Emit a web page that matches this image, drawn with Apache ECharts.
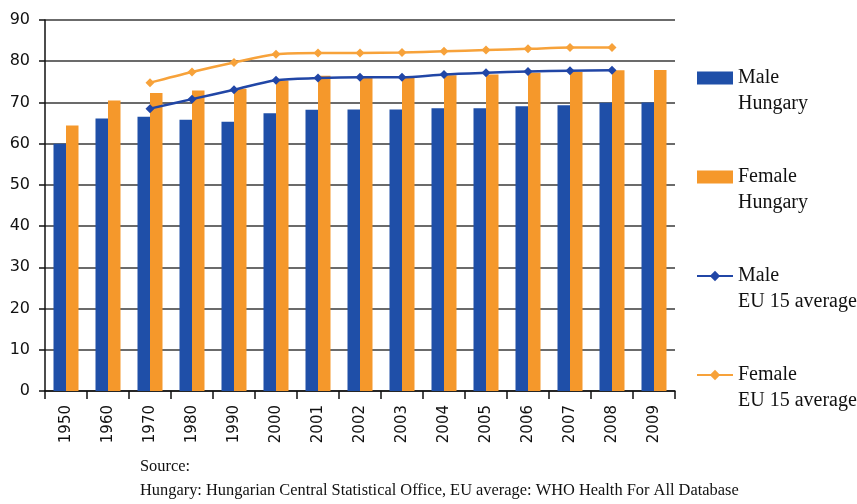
<!DOCTYPE html>
<html>
<head>
<meta charset="utf-8">
<script src="https://cdn.jsdelivr.net/npm/echarts@6/dist/echarts.min.js"></script>
<style>
  html, body { margin: 0; padding: 0; background: #fff; }
  #chart { width: 857px; height: 504px; }
</style>
</head>
<body>
<div id="chart"></div>
<script>
// life expectancy at birth, Hungary vs EU 15
const years = ['1950', '1960', '1970', '1980', '1990', '2000', '2001', '2002', '2003', '2004', '2005', '2006', '2007', '2008', '2009'];
const maleHungary = [60.0, 66.1, 66.5, 65.8, 65.3, 67.4, 68.2, 68.3, 68.3, 68.6, 68.6, 69.1, 69.3, 69.9, 70.0];
const femaleHungary = [64.4, 70.5, 72.3, 72.9, 73.3, 75.3, 76.5, 76.3, 76.3, 76.6, 76.8, 77.2, 77.4, 77.8, 77.9];
const maleEU = [null, null, 68.5, 70.8, 73.1, 75.4, 75.9, 76.1, 76.1, 76.8, 77.2, 77.5, 77.7, 77.8, null];
const femaleEU = [null, null, 74.8, 77.4, 79.7, 81.7, 82.0, 82.0, 82.1, 82.4, 82.7, 83.0, 83.3, 83.3, null];

const blue = '#1f4fa8';
const orange = '#f5982b';

const chart = echarts.init(document.getElementById('chart'));

const option = {
  animation: false,
  backgroundColor: '#fff',
  title: {
    text: 'Source:\nHungary: Hungarian Central Statistical Office, EU average: WHO Health For All Database',
    left: 140,
    top: 455,
    padding: 0,
    textStyle: {
      fontFamily: 'Liberation Serif',
      fontWeight: 'normal',
      fontSize: 16.4,
      lineHeight: 24,
      color: '#111'
    }
  },
  legend: {
    orient: 'vertical',
    left: 696,
    top: 39,
    padding: 0,
    itemGap: 21,
    itemWidth: 36,
    itemHeight: 13,
    selectedMode: false,
    textStyle: {
      fontFamily: 'Liberation Serif',
      fontSize: 20,
      color: '#111',
      lineHeight: 26
    },
    // blank first line so the icon sits next to the first word
    formatter: function (name) {
      return ' \n' + name.replace(' | ', '\n');
    },
    data: [
      { name: 'Male | Hungary', icon: 'rect' },
      { name: 'Female | Hungary', icon: 'rect' },
      { name: 'Male | EU 15 average' },
      { name: 'Female | EU 15 average' }
    ]
  },
  grid: {
    left: 45,
    right: 182,
    top: 20,
    bottom: 113
  },
  xAxis: {
    type: 'category',
    data: years,
    boundaryGap: true,
    axisLine: { lineStyle: { color: '#111', width: 1.5 } },
    axisTick: { show: true, length: 8, interval: 0, lineStyle: { color: '#111', width: 1.5 } },
    axisLabel: {
      interval: 0,
      rotate: 90,
      margin: 14,
      fontFamily: 'DejaVu Sans',
      fontSize: 15,
      color: '#111'
    }
  },
  yAxis: {
    type: 'value',
    min: 0,
    max: 90,
    interval: 10,
    axisLine: { show: true, lineStyle: { color: '#111', width: 1.5 } },
    axisTick: { show: true, length: 6, lineStyle: { color: '#111', width: 1.5 } },
    axisLabel: {
      margin: 15,
      fontFamily: 'DejaVu Sans',
      fontSize: 16,
      color: '#111'
    },
    splitLine: { lineStyle: { color: '#3a3a3a', width: 1.5 } }
  },
  series: [
    {
      name: 'Male | Hungary',
      type: 'bar',
      data: maleHungary,
      barWidth: 12.5,
      barGap: 0,
      itemStyle: { color: blue }
    },
    {
      name: 'Female | Hungary',
      type: 'bar',
      data: femaleHungary,
      barWidth: 12.5,
      barGap: 0,
      itemStyle: { color: orange }
    },
    {
      name: 'Male | EU 15 average',
      type: 'line',
      data: maleEU,
      smooth: 0.3,
      symbol: 'diamond',
      symbolSize: 9,
      lineStyle: { color: '#2146a6', width: 2.5 },
      itemStyle: { color: '#2146a6' }
    },
    {
      name: 'Female | EU 15 average',
      type: 'line',
      data: femaleEU,
      smooth: 0.3,
      symbol: 'diamond',
      symbolSize: 9,
      lineStyle: { color: '#f7a23a', width: 2.5 },
      itemStyle: { color: '#f7a23a' }
    }
  ]
};

chart.setOption(option);
</script>
</body>
</html>
